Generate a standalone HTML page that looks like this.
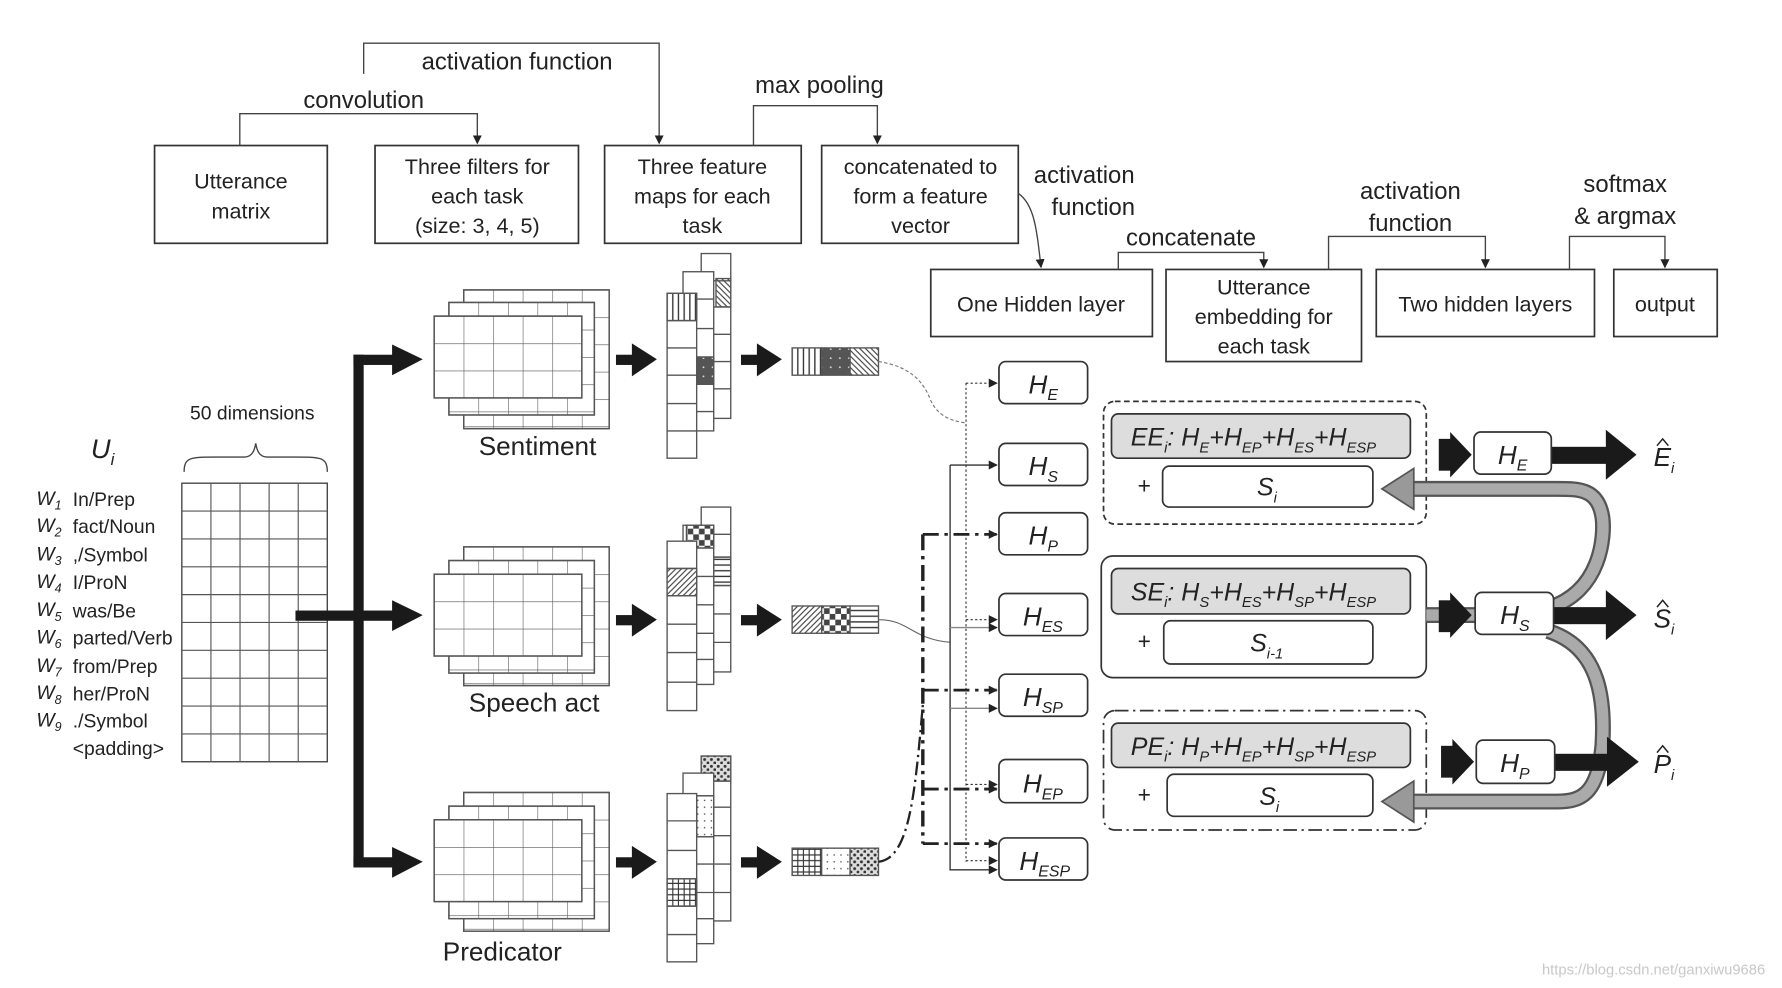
<!DOCTYPE html>
<html><head><meta charset="utf-8"><style>
html,body{margin:0;padding:0;background:#fff}
svg{display:block}
text{font-family:"Liberation Sans",sans-serif;fill:#222}
.it{font-style:italic}
</style></head><body>
<svg width="1782" height="988" viewBox="0 0 1568 869" preserveAspectRatio="none" xmlns="http://www.w3.org/2000/svg">
<defs>
<pattern id="c1" x="382" y="278" width="26" height="24" patternUnits="userSpaceOnUse"><path d="M0 0H26M0 0V24" stroke="#555" stroke-width="1" fill="none"/></pattern>
<pattern id="c2" x="395" y="266" width="26" height="24" patternUnits="userSpaceOnUse"><path d="M0 0H26M0 0V24" stroke="#555" stroke-width="1" fill="none"/></pattern>
<pattern id="c3" x="408" y="255" width="26" height="24" patternUnits="userSpaceOnUse"><path d="M0 0H26M0 0V24" stroke="#555" stroke-width="1" fill="none"/></pattern>
<pattern id="c4" x="382" y="505" width="26" height="24" patternUnits="userSpaceOnUse"><path d="M0 0H26M0 0V24" stroke="#555" stroke-width="1" fill="none"/></pattern>
<pattern id="c5" x="395" y="493" width="26" height="24" patternUnits="userSpaceOnUse"><path d="M0 0H26M0 0V24" stroke="#555" stroke-width="1" fill="none"/></pattern>
<pattern id="c6" x="408" y="481" width="26" height="24" patternUnits="userSpaceOnUse"><path d="M0 0H26M0 0V24" stroke="#555" stroke-width="1" fill="none"/></pattern>
<pattern id="c7" x="382" y="721" width="26" height="24" patternUnits="userSpaceOnUse"><path d="M0 0H26M0 0V24" stroke="#555" stroke-width="1" fill="none"/></pattern>
<pattern id="c8" x="395" y="709" width="26" height="24" patternUnits="userSpaceOnUse"><path d="M0 0H26M0 0V24" stroke="#555" stroke-width="1" fill="none"/></pattern>
<pattern id="c9" x="408" y="697" width="26" height="24" patternUnits="userSpaceOnUse"><path d="M0 0H26M0 0V24" stroke="#555" stroke-width="1" fill="none"/></pattern>
<pattern id="vl" width="5" height="5" patternUnits="userSpaceOnUse"><rect width="5" height="5" fill="#fff"/><path d="M2 0V5" stroke="#333" stroke-width="1.2"/></pattern>
<pattern id="hl" width="5" height="5" patternUnits="userSpaceOnUse"><rect width="5" height="5" fill="#fff"/><path d="M0 2H5" stroke="#333" stroke-width="1.2"/></pattern>
<pattern id="dg" width="5" height="5" patternUnits="userSpaceOnUse"><rect width="5" height="5" fill="#fff"/><path d="M0 5L5 0M-1 1L1 -1M4 6L6 4" stroke="#444" stroke-width="1"/></pattern>
<pattern id="dg2" width="5" height="5" patternUnits="userSpaceOnUse"><rect width="5" height="5" fill="#fff"/><path d="M0 0L5 5M-1 4L1 6M4 -1L6 1" stroke="#444" stroke-width="1"/></pattern>
<pattern id="dk" width="8" height="8" patternUnits="userSpaceOnUse"><rect width="8" height="8" fill="#555"/><circle cx="3" cy="3" r="0.8" fill="#ddd"/></pattern>
<pattern id="ck" width="10" height="10" patternUnits="userSpaceOnUse"><rect width="10" height="10" fill="#fff"/><rect width="5" height="5" fill="#444"/><rect x="5" y="5" width="5" height="5" fill="#444"/></pattern>
<pattern id="gr" width="5" height="5" patternUnits="userSpaceOnUse"><rect width="5" height="5" fill="#fff"/><path d="M0 2H5M2 0V5" stroke="#333" stroke-width="1"/></pattern>
<pattern id="dt" width="6" height="6" patternUnits="userSpaceOnUse"><rect width="6" height="6" fill="#fff"/><circle cx="2" cy="2" r="0.7" fill="#555"/></pattern>
<pattern id="dt2" width="6" height="6" patternUnits="userSpaceOnUse"><rect width="6" height="6" fill="#ddd"/><circle cx="2" cy="2" r="1.3" fill="#333"/><circle cx="5" cy="5" r="1.3" fill="#333"/></pattern>
<marker id="ar" markerWidth="8" markerHeight="8" refX="7" refY="4" orient="auto" markerUnits="userSpaceOnUse"><path d="M0 0L8 4L0 8z" fill="#222"/></marker>
</defs>

<g fill="none" stroke="#333" stroke-width="1.5">
<rect x="136" y="128" width="152" height="86"/>
<rect x="330" y="128" width="179" height="86"/>
<rect x="532" y="128" width="173" height="86"/>
<rect x="723" y="128" width="173" height="86"/>
<rect x="819" y="237" width="195" height="59"/>
<rect x="1026" y="237" width="172" height="81"/>
<rect x="1211" y="237" width="192" height="59"/>
<rect x="1420" y="237" width="91" height="59"/>
</g>
<g fill="none" stroke="#444" stroke-width="1.2">
<path d="M211 128V100H420V126" marker-end="url(#ar)"/>
<path d="M320 65V38H580V126" marker-end="url(#ar)"/>
<path d="M663 128V93H772V126" marker-end="url(#ar)"/>
<path d="M896 170C910 180 912 200 916 235" marker-end="url(#ar)"/>
<path d="M984 237V222H1112V235" marker-end="url(#ar)"/>
<path d="M1169 237V208H1307V235" marker-end="url(#ar)"/>
<path d="M1381 237V208H1465V235" marker-end="url(#ar)"/>
</g>
<g font-size="21" text-anchor="middle">
<text x="455" y="61">activation function</text>
<text x="320" y="95">convolution</text>
<text x="721" y="82">max pooling</text>
<text x="954" y="161">activation</text><text x="962" y="189">function</text>
<text x="1048" y="216">concatenate</text>
<text x="1241" y="175">activation</text><text x="1241" y="203">function</text>
<text x="1430" y="169">softmax</text><text x="1430" y="197">&amp; argmax</text>
</g>
<g font-size="19" text-anchor="middle">
<text x="212" y="166">Utterance</text><text x="212" y="192">matrix</text>
<text x="420" y="153">Three filters for</text><text x="420" y="179">each  task</text><text x="420" y="205">(size: 3, 4, 5)</text>
<text x="618" y="153">Three feature</text><text x="618" y="179">maps for each</text><text x="618" y="205">task</text>
<text x="810" y="153">concatenated to</text><text x="810" y="179">form a feature</text><text x="810" y="205">vector</text>
<text x="916" y="274">One Hidden layer</text>
<text x="1112" y="259">Utterance</text><text x="1112" y="285">embedding for</text><text x="1112" y="311">each task</text>
<text x="1307" y="274">Two hidden layers</text>
<text x="1465" y="274">output</text>
</g>

<!-- left matrix -->
<text x="80" y="403" font-size="24" class="it">U<tspan font-size="15" dy="6">i</tspan></text>
<text x="222" y="369" font-size="17" text-anchor="middle">50 dimensions</text>
<path d="M162 415C162 402 168 402 190 402H215C222 402 224 396 225 390C226 396 228 402 235 402H260C282 402 288 402 288 415" fill="none" stroke="#444" stroke-width="1.2"/>
<rect x="160" y="425" width="128" height="245" fill="#fff" stroke="#444" stroke-width="1.2"/>
<path d="M185.6 425V670M211.2 425V670M236.8 425V670M262.4 425V670M160 449.5H288M160 474H288M160 498.5H288M160 523H288M160 547.5H288M160 572H288M160 596.5H288M160 621H288M160 645.5H288" stroke="#555" stroke-width="1"/>
<g font-size="17">
<text x="32" y="444" class="it">W<tspan font-size="11" dy="4">1</tspan></text><text x="64" y="445">In/Prep</text>
<text x="32" y="468" class="it">W<tspan font-size="11" dy="4">2</tspan></text><text x="64" y="469">fact/Noun</text>
<text x="32" y="493" class="it">W<tspan font-size="11" dy="4">3</tspan></text><text x="64" y="494">,/Symbol</text>
<text x="32" y="517" class="it">W<tspan font-size="11" dy="4">4</tspan></text><text x="64" y="518">I/ProN</text>
<text x="32" y="542" class="it">W<tspan font-size="11" dy="4">5</tspan></text><text x="64" y="543">was/Be</text>
<text x="32" y="566" class="it">W<tspan font-size="11" dy="4">6</tspan></text><text x="64" y="567">parted/Verb</text>
<text x="32" y="591" class="it">W<tspan font-size="11" dy="4">7</tspan></text><text x="64" y="592">from/Prep</text>
<text x="32" y="615" class="it">W<tspan font-size="11" dy="4">8</tspan></text><text x="64" y="616">her/ProN</text>
<text x="32" y="639" class="it">W<tspan font-size="11" dy="4">9</tspan></text><text x="64" y="640">./Symbol</text>
<text x="64" y="664">&lt;padding&gt;</text>
</g>

<!-- thick arrows -->
<g fill="#1a1a1a">
<rect x="260" y="537" width="58" height="9"/>
<rect x="311" y="312" width="9" height="450"/>
<rect x="311" y="312" width="36" height="9"/><path d="M345 303L372 316L345 330z"/>
<rect x="311" y="537" width="36" height="9"/><path d="M345 528L372 541L345 555z"/>
<rect x="311" y="754" width="36" height="9"/><path d="M345 745L372 758L345 772z"/>
<rect x="542" y="312" width="16" height="9"/><path d="M556 302L578 316L556 331z"/>
<rect x="542" y="541" width="16" height="9"/><path d="M556 531L578 545L556 560z"/>
<rect x="542" y="754" width="16" height="9"/><path d="M556 744L578 758L556 773z"/>
<rect x="652" y="312" width="16" height="9"/><path d="M666 302L688 316L666 331z"/>
<rect x="652" y="541" width="16" height="9"/><path d="M666 531L688 545L666 560z"/>
<rect x="652" y="754" width="16" height="9"/><path d="M666 744L688 758L666 773z"/>
</g>

<!-- stacked grids -->
<g stroke="#555" stroke-width="1.2">
<rect x="408" y="255" width="128" height="122" fill="#fff"/><rect x="408" y="255" width="128" height="122" fill="url(#c3)"/>
<rect x="395" y="266" width="128" height="99" fill="#fff"/><rect x="395" y="266" width="128" height="99" fill="url(#c2)"/>
<rect x="382" y="278" width="130" height="72" fill="#fff"/><rect x="382" y="278" width="130" height="72" fill="url(#c1)"/>
<rect x="408" y="481" width="128" height="122" fill="#fff"/><rect x="408" y="481" width="128" height="122" fill="url(#c6)"/>
<rect x="395" y="493" width="128" height="99" fill="#fff"/><rect x="395" y="493" width="128" height="99" fill="url(#c5)"/>
<rect x="382" y="505" width="130" height="72" fill="#fff"/><rect x="382" y="505" width="130" height="72" fill="url(#c4)"/>
<rect x="408" y="697" width="128" height="122" fill="#fff"/><rect x="408" y="697" width="128" height="122" fill="url(#c9)"/>
<rect x="395" y="709" width="128" height="99" fill="#fff"/><rect x="395" y="709" width="128" height="99" fill="url(#c8)"/>
<rect x="382" y="721" width="130" height="72" fill="#fff"/><rect x="382" y="721" width="130" height="72" fill="url(#c7)"/>
</g>
<g font-size="23" text-anchor="middle">
<text x="473" y="400">Sentiment</text>
<text x="470" y="626">Speech act</text>
<text x="442" y="845">Predicator</text>
</g>

<!-- feature map columns -->
<g stroke="#555" stroke-width="1.2" fill="#fff">
<rect x="617" y="223" width="26" height="145"/><rect x="630" y="245" width="13" height="25" fill="url(#dg2)"/><path d="M617 247H643M617 270H643M617 294H643M617 318H643M617 342H643"/>
<rect x="601" y="239" width="27" height="140"/><rect x="613" y="314" width="15" height="24" fill="url(#dk)"/><path d="M613 263H628M613 289H628M613 314H628M613 338H628M613 362H628"/>
<rect x="587" y="258" width="26" height="145"/><rect x="587" y="258" width="26" height="24" fill="url(#vl)"/><path d="M587 282H613M587 306H613M587 330H613M587 355H613M587 379H613"/>
<rect x="617" y="446" width="26" height="145"/><rect x="628" y="490" width="15" height="25" fill="url(#hl)"/><path d="M617 470H643M617 490H643M617 515H643M617 540H643M617 565H643"/>
<rect x="601" y="462" width="27" height="140"/><rect x="604" y="462" width="24" height="20" fill="url(#ck)"/><path d="M601 482H628M601 507H628M601 532H628M601 557H628M601 580H628"/>
<rect x="587" y="476" width="26" height="149"/><rect x="587" y="500" width="26" height="24" fill="url(#dg)"/><path d="M587 500H613M587 524H613M587 549H613M587 574H613M587 600H613"/>
<rect x="617" y="665" width="26" height="145"/><rect x="617" y="665" width="26" height="22" fill="url(#dt2)"/><path d="M617 687H643M617 710H643M617 735H643M617 760H643M617 785H643"/>
<rect x="601" y="680" width="27" height="150"/><rect x="613" y="700" width="15" height="36" fill="url(#dt)"/><path d="M613 700H628M601 736H628M601 760H628M601 785H628M601 808H628"/>
<rect x="587" y="698" width="26" height="148"/><rect x="587" y="773" width="26" height="24" fill="url(#gr)"/><path d="M587 722H613M587 748H613M587 773H613M587 797H613M587 822H613"/>
</g>

<!-- vectors -->
<g stroke="#555" stroke-width="1.2">
<rect x="697" y="306" width="26" height="24" fill="url(#vl)"/><rect x="723" y="306" width="25" height="24" fill="url(#dk)"/><rect x="748" y="306" width="25" height="24" fill="url(#dg2)"/>
<rect x="697" y="533" width="26" height="24" fill="url(#dg)"/><rect x="723" y="533" width="25" height="24" fill="url(#ck)"/><rect x="748" y="533" width="25" height="24" fill="url(#hl)"/>
<rect x="697" y="746" width="26" height="24" fill="url(#gr)"/><rect x="723" y="746" width="25" height="24" fill="url(#dt)"/><rect x="748" y="746" width="25" height="24" fill="url(#dt2)"/>
</g>

<!-- connectors -->
<g fill="none">
<path d="M773 318C800 322 812 335 818 350C824 365 835 370 850 372" stroke="#777" stroke-dasharray="3,2"/>
<path d="M773 545C800 545 802 562 836 565" stroke="#666"/>
<path d="M773 758C800 755 805 700 812 620" stroke="#222" stroke-width="2" stroke-dasharray="12,4,2,4"/>
<path d="M850 337V758" stroke="#333" stroke-dasharray="2,2"/>
<path d="M850 337H877" stroke="#333" stroke-dasharray="2,2" marker-end="url(#ar)"/>
<path d="M850 545H877" stroke="#333" stroke-dasharray="2,2" marker-end="url(#ar)"/>
<path d="M850 690H877" stroke="#333" stroke-dasharray="2,2" marker-end="url(#ar)"/>
<path d="M850 757H877" stroke="#333" stroke-dasharray="2,2" marker-end="url(#ar)"/>
<path d="M836 409V765H877" stroke="#333" stroke-width="1.2" marker-end="url(#ar)"/>
<path d="M836 409H877" stroke="#333" stroke-width="1.2" marker-end="url(#ar)"/>
<path d="M836 552H877" stroke="#888" stroke-width="1.2" marker-end="url(#ar)"/>
<path d="M836 623H877" stroke="#888" stroke-width="1.2" marker-end="url(#ar)"/>
<path d="M812 470V742" stroke="#222" stroke-width="3" stroke-dasharray="14,5,3,5"/>
<path d="M812 470H877" stroke="#222" stroke-width="2.5" stroke-dasharray="14,5,3,5" marker-end="url(#ar)"/>
<path d="M812 607H877" stroke="#222" stroke-width="2.5" stroke-dasharray="14,5,3,5" marker-end="url(#ar)"/>
<path d="M812 694H877" stroke="#222" stroke-width="2.5" stroke-dasharray="14,5,3,5" marker-end="url(#ar)"/>
<path d="M812 742H877" stroke="#222" stroke-width="2.5" stroke-dasharray="14,5,3,5" marker-end="url(#ar)"/>
</g>

<!-- H boxes -->
<g fill="#fff" stroke="#333" stroke-width="1.5">
<rect x="879" y="318" width="78" height="37" rx="6"/>
<rect x="879" y="390" width="78" height="37" rx="6"/>
<rect x="879" y="451" width="78" height="37" rx="6"/>
<rect x="879" y="522" width="78" height="37" rx="6"/>
<rect x="879" y="593" width="78" height="37" rx="6"/>
<rect x="879" y="668" width="78" height="38" rx="6"/>
<rect x="879" y="737" width="78" height="37" rx="6"/>
</g>
<g font-size="23" class="it">
<text x="905" y="346" class="it">H<tspan font-size="14" dy="6">E</tspan></text>
<text x="905" y="418" class="it">H<tspan font-size="14" dy="6">S</tspan></text>
<text x="905" y="479" class="it">H<tspan font-size="14" dy="6">P</tspan></text>
<text x="900" y="550" class="it">H<tspan font-size="14" dy="6">ES</tspan></text>
<text x="900" y="621" class="it">H<tspan font-size="14" dy="6">SP</tspan></text>
<text x="900" y="697" class="it">H<tspan font-size="14" dy="6">EP</tspan></text>
<text x="897" y="765" class="it">H<tspan font-size="14" dy="6">ESP</tspan></text>
</g>

<!-- embedding boxes -->
<g stroke="#333" stroke-width="1.5">
<rect x="971" y="353" width="284" height="108" rx="10" fill="#fff" stroke-dasharray="5,3"/>
<rect x="969" y="489" width="286" height="107" rx="10" fill="#fff"/>
<rect x="971" y="625" width="284" height="105" rx="10" fill="#fff" stroke-dasharray="12,4,2,4"/>
<rect x="978" y="364" width="263" height="39" rx="6" fill="#ddd"/>
<rect x="1023" y="410" width="185" height="36" rx="6" fill="#fff"/>
<rect x="978" y="500" width="263" height="40" rx="6" fill="#ddd"/>
<rect x="1024" y="546" width="184" height="38" rx="6" fill="#fff"/>
<rect x="978" y="636" width="263" height="39" rx="6" fill="#ddd"/>
<rect x="1027" y="681" width="181" height="37" rx="6" fill="#fff"/>
</g>
<g font-size="22" class="it">
<text x="995" y="392">EE<tspan font-size="13" dy="6">i</tspan><tspan dy="-6">: H</tspan><tspan font-size="13" dy="6">E</tspan><tspan dy="-6">+H</tspan><tspan font-size="13" dy="6">EP</tspan><tspan dy="-6">+H</tspan><tspan font-size="13" dy="6">ES</tspan><tspan dy="-6">+H</tspan><tspan font-size="13" dy="6">ESP</tspan></text>
<text x="995" y="528">SE<tspan font-size="13" dy="6">i</tspan><tspan dy="-6">: H</tspan><tspan font-size="13" dy="6">S</tspan><tspan dy="-6">+H</tspan><tspan font-size="13" dy="6">ES</tspan><tspan dy="-6">+H</tspan><tspan font-size="13" dy="6">SP</tspan><tspan dy="-6">+H</tspan><tspan font-size="13" dy="6">ESP</tspan></text>
<text x="995" y="664">PE<tspan font-size="13" dy="6">i</tspan><tspan dy="-6">: H</tspan><tspan font-size="13" dy="6">P</tspan><tspan dy="-6">+H</tspan><tspan font-size="13" dy="6">EP</tspan><tspan dy="-6">+H</tspan><tspan font-size="13" dy="6">SP</tspan><tspan dy="-6">+H</tspan><tspan font-size="13" dy="6">ESP</tspan></text>
<text x="1106" y="436">S<tspan font-size="13" dy="6">i</tspan></text>
<text x="1100" y="573">S<tspan font-size="13" dy="6">i-1</tspan></text>
<text x="1108" y="708">S<tspan font-size="13" dy="6">i</tspan></text>
</g>
<g font-size="20"><text x="1001" y="434">+</text><text x="1001" y="571">+</text><text x="1001" y="706">+</text></g>

<!-- gray curved arrows -->
<g fill="none" stroke="#555" stroke-width="14">
<path d="M1362 535C1410 520 1412 470 1410 455C1406 430 1390 430 1370 430H1240"/>
<path d="M1362 555C1410 570 1412 620 1410 655C1406 700 1390 705 1370 705H1240"/>
<path d="M1255 541H1300"/>
</g>
<g fill="none" stroke="#aaa" stroke-width="10">
<path d="M1362 535C1410 520 1412 470 1410 455C1406 430 1390 430 1370 430H1240"/>
<path d="M1362 555C1410 570 1412 620 1410 655C1406 700 1390 705 1370 705H1240"/>
<path d="M1255 541H1300"/>
</g>
<path d="M1244 412L1216 430L1244 448z" fill="#999" stroke="#555" stroke-width="1.5"/>
<path d="M1244 687L1216 705L1244 723z" fill="#999" stroke="#555" stroke-width="1.5"/>

<!-- right thick arrows -->
<g fill="#1a1a1a">
<rect x="1266" y="386" width="12" height="28"/><path d="M1276 380L1295 400L1276 420z"/>
<rect x="1266" y="528" width="12" height="28"/><path d="M1276 521L1295 541L1276 561z"/>
<rect x="1268" y="656" width="12" height="28"/><path d="M1278 650L1297 670L1278 690z"/>
<rect x="1365" y="393" width="50" height="15"/><path d="M1413 378L1440 400L1413 422z"/>
<rect x="1367" y="534" width="48" height="15"/><path d="M1413 519L1440 541L1413 563z"/>
<rect x="1368" y="663" width="48" height="15"/><path d="M1414 648L1442 670L1414 692z"/>
</g>
<g fill="#fff" stroke="#333" stroke-width="1.5">
<rect x="1297" y="380" width="68" height="37" rx="6"/>
<rect x="1298" y="521" width="69" height="37" rx="6"/>
<rect x="1299" y="651" width="69" height="38" rx="6"/>
</g>
<g font-size="23" class="it">
<text x="1318" y="408">H<tspan font-size="14" dy="6">E</tspan></text>
<text x="1320" y="549">H<tspan font-size="14" dy="6">S</tspan></text>
<text x="1320" y="679">H<tspan font-size="14" dy="6">P</tspan></text>
<text x="1455" y="410">E<tspan font-size="13" dy="6">i</tspan></text>
<text x="1455" y="552">S<tspan font-size="13" dy="6">i</tspan></text>
<text x="1455" y="680">P<tspan font-size="13" dy="6">i</tspan></text>
</g>
<g fill="none" stroke="#222" stroke-width="1.3">
<path d="M1458 392L1463 386L1468 392"/><path d="M1458 534L1463 528L1468 534"/><path d="M1458 662L1463 656L1468 662"/>
</g>

<text x="1455" y="857" font-size="13" text-anchor="middle" style="fill:#c8c8c8">https://blog.csdn.net/ganxiwu9686</text>
</svg>
</body></html>
